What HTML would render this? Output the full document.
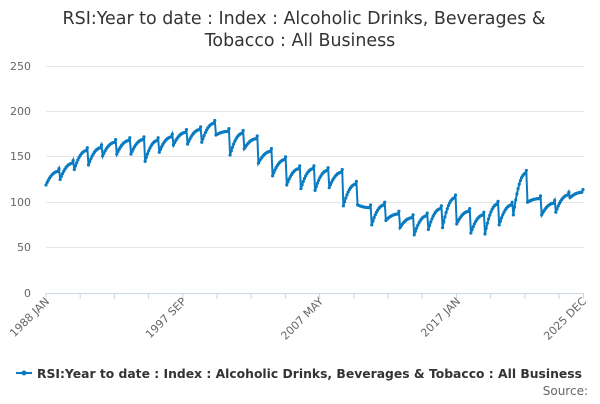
<!DOCTYPE html>
<html><head><meta charset="utf-8"><style>
body{margin:0;background:#fff;font-family:"DejaVu Sans","Liberation Sans",sans-serif}
</style></head><body>
<svg id="s" width="600" height="400" xmlns="http://www.w3.org/2000/svg" font-family="DejaVu Sans, Liberation Sans, sans-serif">
<rect width="600" height="400" fill="#fff"/>
<text x="304" y="24" text-anchor="middle" font-size="17.4" fill="#333" textLength="483" lengthAdjust="spacingAndGlyphs">RSI:Year to date : Index : Alcoholic Drinks, Beverages &amp;</text>
<text x="300" y="46" text-anchor="middle" font-size="17.4" fill="#333">Tobacco : All Business</text>
<g stroke="#e6e6e6" stroke-width="1">
<line x1="46" x2="584" y1="66.5" y2="66.5"/><line x1="46" x2="584" y1="111.5" y2="111.5"/>
<line x1="46" x2="584" y1="156.5" y2="156.5"/><line x1="46" x2="584" y1="202.5" y2="202.5"/>
<line x1="46" x2="584" y1="247.5" y2="247.5"/>
</g>
<line x1="46" x2="584" y1="293.5" y2="293.5" stroke="#ccd6eb"/>
<g font-size="11" fill="#666" text-anchor="end">
<text x="31" y="70">250</text><text x="31" y="115">200</text><text x="31" y="160">150</text>
<text x="31" y="206">100</text><text x="31" y="251">50</text><text x="31" y="297">0</text>
</g>
<g id="ticks" stroke="#ccd6eb"></g>
<g font-size="11" fill="#666" text-anchor="end">
<text transform="translate(50,302) rotate(-45)">1988 JAN</text>
<text transform="translate(187,302) rotate(-45)">1997 SEP</text>
<text transform="translate(324,302) rotate(-45)">2007 MAY</text>
<text transform="translate(461,302) rotate(-45)">2017 JAN</text>
<text transform="translate(587,302) rotate(-45)">2025 DEC</text>
</g>
<g id="series"></g>
<line x1="16" x2="32" y1="373" y2="373" stroke="#0a7bc1" stroke-width="2"/>
<circle cx="24" cy="373" r="2.5" fill="#0a7bc1"/>
<text x="37" y="378" font-size="12.3" font-weight="bold" fill="#333" textLength="545" lengthAdjust="spacingAndGlyphs">RSI:Year to date : Index : Alcoholic Drinks, Beverages &amp; Tobacco : All Business</text>
<text x="588" y="395" font-size="12" fill="#666" text-anchor="end">Source:</text>
</svg>
<script>
var yrs=[[119,134],[125,143],[136,157],[141,160],[151,166],[153,168],[153,169],[145,168],[155,172],[163,177],[164,180],[166,187],[174,178],[152,176],[159,170],[143,156],[129,147],[119,137],[115,137],[113,135],[116,133],[96,120],[97,94],[75,97],[80,87],[72,83],[64,85],[70,93],[72,105],[76,90],[66,86],[65,98],[75,97],[86,132],[100,104],[86,99],[89,108],[105,111]];
var ns="http://www.w3.org/2000/svg";
var pts=[],n=yrs.length*12,dx=537/(n-1);
for(var i=0;i<yrs.length;i++)for(var m=0;m<12;m++){var t=m/11,s=yrs[i][0],e=yrs[i][1];
var v=s+(e-s)*(1-Math.pow(1-t,2.2));if(m==11)v+=3;
var k=i*12+m;pts.push([46+k*dx,293-v*0.908]);}
var d="M"+pts.map(function(p){return p[0].toFixed(1)+","+p[1].toFixed(1)}).join("L");
var g=document.getElementById("series");
var p=document.createElementNS(ns,"path");p.setAttribute("d",d);p.setAttribute("fill","none");p.setAttribute("stroke","#0a7bc1");p.setAttribute("stroke-width","2");g.appendChild(p);
pts.forEach(function(q){var c=document.createElementNS(ns,"circle");c.setAttribute("cx",q[0]);c.setAttribute("cy",q[1]);c.setAttribute("r","1.6");c.setAttribute("fill","#0a7bc1");g.appendChild(c);});
var tg=document.getElementById("ticks");
for(var x=46;x<=584;x+=34.2){var l=document.createElementNS(ns,"line");l.setAttribute("x1",x.toFixed(1));l.setAttribute("x2",x.toFixed(1));l.setAttribute("y1",293);l.setAttribute("y2",299);tg.appendChild(l);}
var l2=document.createElementNS(ns,"line");l2.setAttribute("x1",583.5);l2.setAttribute("x2",583.5);l2.setAttribute("y1",293);l2.setAttribute("y2",299);tg.appendChild(l2);
</script>
</body></html>
